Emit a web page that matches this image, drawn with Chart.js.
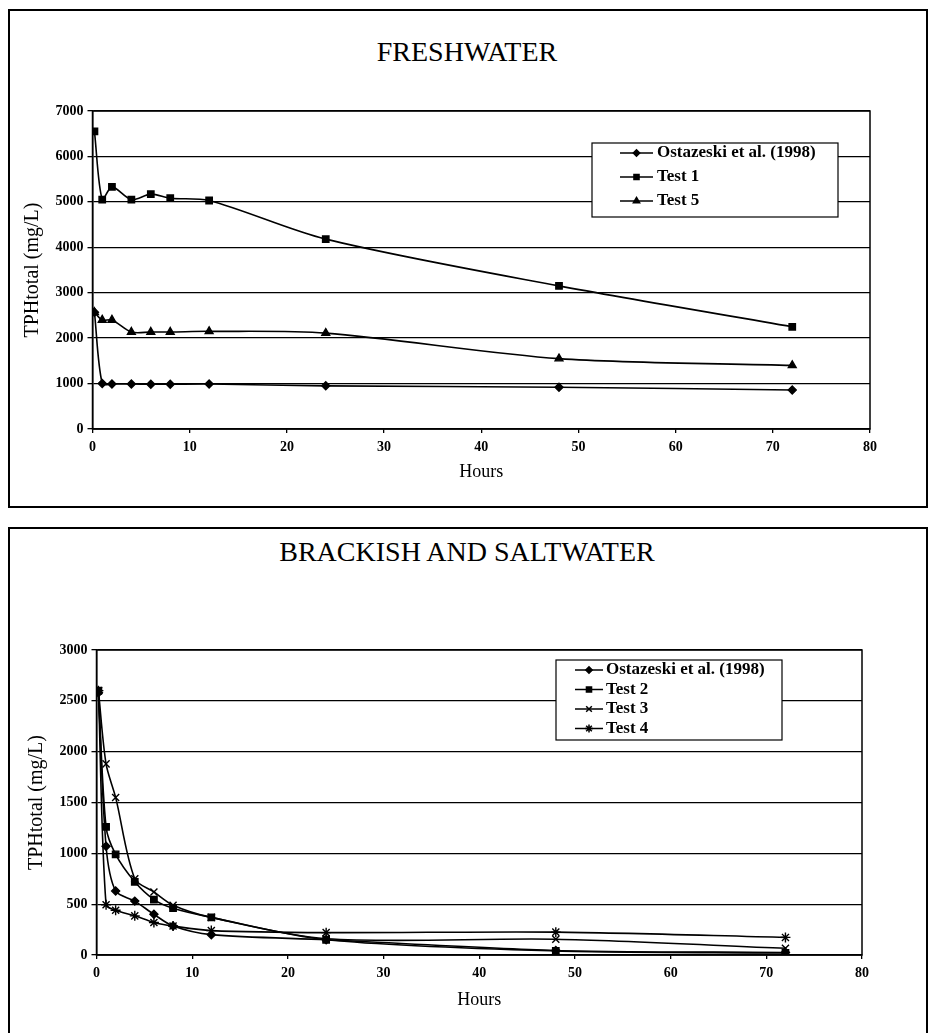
<!DOCTYPE html>
<html><head><meta charset="utf-8">
<script src="https://cdn.jsdelivr.net/npm/chart.js@4.4.1/dist/chart.umd.min.js"></script>
<style>
body{margin:0;background:#fff;width:930px;height:1033px;overflow:hidden;position:relative;font-family:"Liberation Serif",serif;}
.panel{position:absolute;box-sizing:border-box;border:2px solid #000;}
.title{position:absolute;left:0;width:934px;text-align:center;font-size:28px;line-height:32px;color:#000;font-family:"Liberation Serif",serif;}
canvas{position:absolute;left:0;}
</style></head><body>
<div class="panel" style="left:8px;top:9px;width:920px;height:499px"></div>
<div class="panel" style="left:8px;top:527px;width:920px;height:540px"></div>
<div class="title" style="top:36px">FRESHWATER</div>
<div class="title" style="top:536px">BRACKISH AND SALTWATER</div>
<canvas id="c1" width="930" height="510" style="top:0"></canvas>
<canvas id="c2" width="930" height="513" style="top:520px"></canvas>
<script>
// ---- data ----
const hours = [0.2, 1, 2, 4, 6, 8, 12, 24, 48, 72];
const xTicks = [0, 10, 20, 30, 40, 50, 60, 70, 80];

const freshLabels = ['Ostazeski et al. (1998)', 'Test 1', 'Test 5'];
const freshOstazeski = [2570, 1000, 990, 990, 985, 985, 990, 950, 920, 858];
const freshTest1 = [6550, 5050, 5330, 5050, 5170, 5080, 5030, 4180, 3150, 2250];
const freshTest5 = [2570, 2400, 2400, 2135, 2135, 2135, 2150, 2110, 1550, 1400];
const freshYTicks = [0, 1000, 2000, 3000, 4000, 5000, 6000, 7000];

const saltLabels = ['Ostazeski et al. (1998)', 'Test 2', 'Test 3', 'Test 4'];
const saltOstazeski = [2580, 1070, 630, 530, 400, 285, 200, 150, 45, 25];
const saltTest2 = [2600, 1260, 990, 720, 545, 460, 370, 150, 40, 20];
const saltTest3 = [2600, 1880, 1550, 750, 620, 490, 370, 160, 155, 66];
const saltTest4 = [2600, 495, 440, 385, 320, 285, 240, 220, 225, 173];
const saltYTicks = [0, 500, 1000, 1500, 2000, 2500, 3000];

const xTitle = 'Hours';
const yTitle = 'TPHtotal (mg/L)';

// ---- helpers ----
const FAM = '"Liberation Serif", serif';
const pts = (vals) => vals.map((v, i) => ({x: hours[i], y: v}));
function ds(label, vals, style, radius, order) {
  return {
    label, data: pts(vals), pointStyle: style, pointRadius: radius, order,
    borderColor: '#000', backgroundColor: '#000', pointBackgroundColor: '#000',
    pointBorderColor: '#000', pointBorderWidth: 1.4, borderWidth: 1.6,
    tension: 0.3, fill: false
  };
}

const frameBox = {
  id: 'frameBox',
  afterDatasetsDraw(chart) {
    const a = chart.chartArea, ctx = chart.ctx;
    ctx.save(); ctx.strokeStyle = '#000'; ctx.lineWidth = 1.5;
    ctx.strokeRect(a.left, a.top, a.right - a.left, a.bottom - a.top);
    ctx.restore();
  }
};
const lineLegend = {
  id: 'lineLegend',
  afterDraw(chart, args, o) {
    const ctx = chart.ctx;
    ctx.save();
    ctx.fillStyle = '#fff'; ctx.fillRect(o.x, o.y, o.w, o.h);
    ctx.strokeStyle = '#000'; ctx.lineWidth = 1.2; ctx.strokeRect(o.x, o.y, o.w, o.h);
    chart.data.datasets.forEach((d, i) => {
      const ry = o.y + o.firstRow + i * o.rowH;
      ctx.strokeStyle = '#000'; ctx.lineWidth = 1.5;
      ctx.beginPath(); ctx.moveTo(o.x + o.l1, ry); ctx.lineTo(o.x + o.l2, ry); ctx.stroke();
      ctx.fillStyle = '#000';
      Chart.helpers.drawPoint(ctx, {pointStyle: d.pointStyle, radius: d.pointRadius * 0.8, borderWidth: 1.2}, o.x + (o.l1 + o.l2) / 2, ry);
      ctx.fillStyle = '#000';
      ctx.font = 'bold 17px ' + FAM;
      ctx.textBaseline = 'middle'; ctx.textAlign = 'left';
      ctx.fillText(d.label, o.x + o.tx, ry);
    });
    ctx.restore();
  }
};

function scales(yTicks, yMax, yWidth, yTitlePad, xTitlePad) {
  const tickFont = {family: FAM, size: 14, weight: 'bold'};
  return {
    x: {
      type: 'linear', min: 0, max: 80,
      afterBuildTicks: s => { s.ticks = xTicks.map(v => ({value: v})); },
      afterFit: s => { s.height = 60; },
      grid: {drawOnChartArea: false, drawTicks: true, tickLength: 4, color: '#000', lineWidth: 1.3},
      border: {color: '#000', width: 1.5},
      ticks: {font: tickFont, color: '#000', padding: 6, maxRotation: 0, autoSkip: false, callback: v => String(v)},
      title: {display: true, text: xTitle, color: '#000', font: {family: FAM, size: 18}, padding: {top: 0, bottom: xTitlePad}}
    },
    y: {
      min: 0, max: yMax,
      afterBuildTicks: s => { s.ticks = yTicks.map(v => ({value: v})); },
      afterFit: s => { s.width = yWidth; },
      grid: {color: '#000', lineWidth: 1.3, tickLength: 5},
      border: {color: '#000', width: 1.5},
      ticks: {font: tickFont, color: '#000', padding: 4, callback: v => String(v)},
      title: {display: true, text: yTitle, color: '#000', font: {family: FAM, size: 20}, padding: {top: yTitlePad, bottom: 0}}
    }
  };
}

new Chart(document.getElementById('c1'), {
  type: 'line',
  data: {datasets: [
    ds(freshLabels[0], freshOstazeski, 'rectRot', 4, 1),
    ds(freshLabels[1], freshTest1, 'rect', 4.5, 0),
    ds(freshLabels[2], freshTest5, 'triangle', 4.5, 2)
  ]},
  options: {
    responsive: false, animation: false, devicePixelRatio: 1,
    layout: {padding: {top: 111, left: 0, right: 60, bottom: 21}},
    plugins: {legend: {display: false}, tooltip: {enabled: false},
      lineLegend: {x: 592, y: 143, w: 246, h: 74, firstRow: 10, rowH: 24, l1: 28, l2: 61, tx: 65}},
    scales: scales(freshYTicks, 7000, 92.5, 21, 6)
  },
  plugins: [frameBox, lineLegend]
});

new Chart(document.getElementById('c2'), {
  type: 'line',
  data: {datasets: [
    ds(saltLabels[0], saltOstazeski, 'rectRot', 4, 1),
    ds(saltLabels[1], saltTest2, 'rect', 4.5, 0),
    ds(saltLabels[2], saltTest3, 'crossRot', 5, 2),
    ds(saltLabels[3], saltTest4, 'star', 5, 3)
  ]},
  options: {
    responsive: false, animation: false, devicePixelRatio: 1,
    layout: {padding: {top: 130, left: 0, right: 68, bottom: 18}},
    plugins: {legend: {display: false}, tooltip: {enabled: false},
      lineLegend: {x: 556, y: 140, w: 226, h: 80, firstRow: 10, rowH: 19.5, l1: 19, l2: 47, tx: 50}},
    scales: scales(saltYTicks, 3000, 96.5, 25, 4)
  },
  plugins: [frameBox, lineLegend]
});
</script>
</body></html>
